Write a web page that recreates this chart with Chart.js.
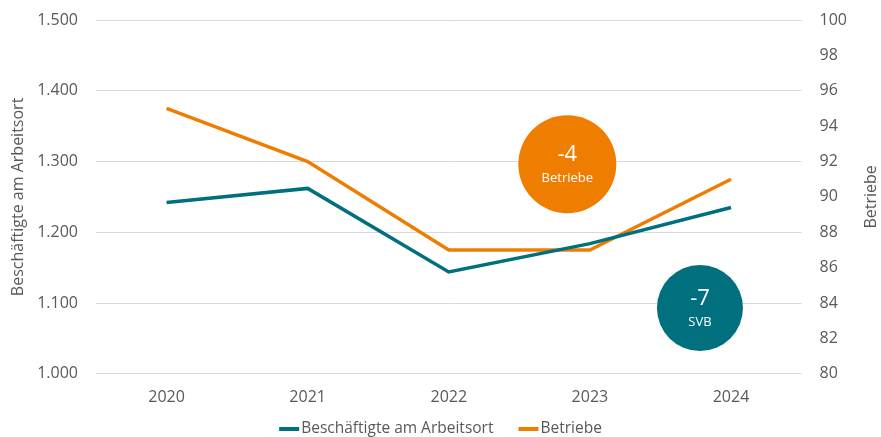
<!DOCTYPE html>
<html>
<head>
<meta charset="utf-8">
<script src="https://cdn.jsdelivr.net/npm/chart.js@4/dist/chart.umd.min.js"></script>
<style>
  html, body { margin: 0; padding: 0; background: #fff; }
  #wrap { width: 881px; height: 437px; }
</style>
</head>
<body>
<div id="wrap"><canvas id="chart"></canvas></div>
<script>
// Daten
var jahre = ['2020', '2021', '2022', '2023', '2024'];
var beschaeftigte = [1242, 1262, 1144, 1184, 1235];
var betriebe = [95, 92, 87, 87, 91];
var svbDiff = '-7';
var betriebeDiff = '-4';

var teal = '#00707f';
var orange = '#ef7d00';
var grau = '#595959';
var schrift = "'Open Sans', 'Noto Sans', sans-serif";

function tausender(v) {
  var s = String(Math.round(v));
  return s.replace(/\B(?=(\d{3})+(?!\d))/g, '.');
}

// Kreise mit Veraenderung (an Achsenwerten verankert), rechter Achsentitel, Legende
var kreisPlugin = {
  id: 'kreise',
  afterDatasetsDraw: function(chart) {
    var ctx = chart.ctx;
    var x = chart.scales.x, yL = chart.scales.y, yR = chart.scales.y1;
    var kreise = [
      { cx: x.getPixelForValue(2.84), cy: yR.getPixelForValue(91.85), r: 49, farbe: orange, zahl: betriebeDiff, text: 'Betriebe' },
      { cx: x.getPixelForValue(3.78), cy: yL.getPixelForValue(1093), r: 43, farbe: teal, zahl: svbDiff, text: 'SVB' }
    ];
    ctx.save();
    kreise.forEach(function(k) {
      ctx.beginPath();
      ctx.arc(k.cx, k.cy, k.r, 0, Math.PI * 2);
      ctx.fillStyle = k.farbe;
      ctx.fill();
      ctx.fillStyle = '#fff';
      ctx.textAlign = 'center';
      ctx.textBaseline = 'middle';
      ctx.font = '22px ' + schrift;
      ctx.fillText(k.zahl, k.cx, k.cy - 9);
      ctx.font = '13px ' + schrift;
      ctx.fillText(k.text, k.cx, k.cy + 14);
    });
    ctx.restore();

    // Titel der rechten Achse, von unten nach oben gelesen
    ctx.save();
    ctx.translate(chart.width - 10, (chart.chartArea.top + chart.chartArea.bottom) / 2);
    ctx.rotate(-Math.PI / 2);
    ctx.fillStyle = grau;
    ctx.textAlign = 'center';
    ctx.textBaseline = 'middle';
    ctx.font = '16px ' + schrift;
    ctx.fillText('Betriebe', 0, 0);
    ctx.restore();

    // Legende unten
    ctx.save();
    ctx.font = '15.5px ' + schrift;
    ctx.textBaseline = 'middle';
    ctx.textAlign = 'left';
    var eintraege = chart.data.datasets.map(function(ds) {
      return { text: ds.label, farbe: ds.borderColor, breite: ctx.measureText(ds.label).width };
    });
    var strich = 20, abstand = 25;
    var gesamt = 0;
    eintraege.forEach(function(e, i) {
      gesamt += strich + 2 + e.breite + (i < eintraege.length - 1 ? abstand : 0);
    });
    var lx = chart.width / 2 - gesamt / 2, ly = 429;
    eintraege.forEach(function(e) {
      ctx.fillStyle = e.farbe;
      ctx.fillRect(lx, ly - 2, strich, 4);
      ctx.fillStyle = grau;
      ctx.fillText(e.text, lx + strich + 2, ly);
      lx += strich + 2 + e.breite + abstand;
    });
    ctx.restore();
  }
};

new Chart(document.getElementById('chart').getContext('2d'), {
  type: 'line',
  data: {
    labels: jahre,
    datasets: [{
      label: 'Beschäftigte am Arbeitsort',
      data: beschaeftigte,
      borderColor: teal,
      backgroundColor: teal,
      borderWidth: 3.5,
      pointRadius: 0,
      tension: 0,
      yAxisID: 'y'
    },
    {
      label: 'Betriebe',
      data: betriebe,
      borderColor: orange,
      backgroundColor: orange,
      borderWidth: 3.5,
      pointRadius: 0,
      tension: 0,
      yAxisID: 'y1'
    }]
  },
  options: {
    responsive: true,
    maintainAspectRatio: false,
    animation: false,
    layout: { autoPadding: false, padding: { top: 20, left: 9, right: 32, bottom: 24 } },
    plugins: {
      legend: { display: false },
      tooltip: { enabled: false }
    },
    scales: {
      x: {
        offset: true,
        grid: { display: false },
        border: { display: false },
        ticks: { color: grau, font: { family: schrift, size: 16 }, padding: 6 }
      },
      y: {
        position: 'left',
        min: 1000,
        max: 1500,
        // unsichtbare Tickmarken als Abstand zwischen Beschriftung und Diagramm
        grid: { color: '#d9d9d9', lineWidth: 1, tickLength: 16, tickColor: 'rgba(0,0,0,0)' },
        border: { display: false },
        ticks: {
          stepSize: 100,
          color: grau,
          font: { family: schrift, size: 16 },
          padding: 2,
          callback: function(v) { return tausender(v); }
        },
        title: {
          display: true,
          text: 'Beschäftigte am Arbeitsort',
          color: grau,
          font: { family: schrift, size: 16 },
          padding: { top: 0, bottom: 7 }
        }
      },
      y1: {
        position: 'right',
        min: 80,
        max: 100,
        grid: { drawOnChartArea: false, tickLength: 16, tickColor: 'rgba(0,0,0,0)' },
        border: { display: false },
        ticks: {
          stepSize: 2,
          color: grau,
          font: { family: schrift, size: 16 },
          padding: 2
        }
      }
    }
  },
  plugins: [kreisPlugin]
});
</script>
</body>
</html>
